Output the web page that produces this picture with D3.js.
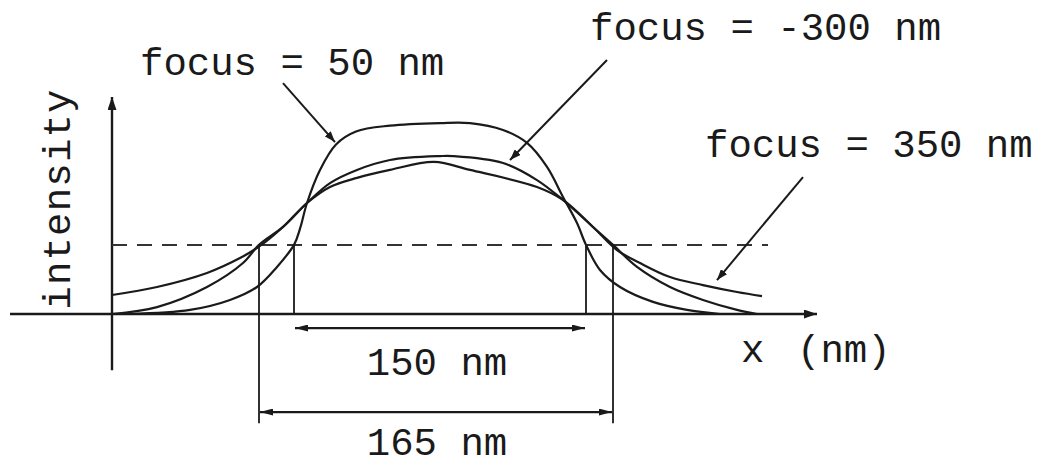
<!DOCTYPE html>
<html>
<head>
<meta charset="utf-8">
<script src="https://cdn.jsdelivr.net/npm/d3@7"></script>
<style>
  html, body { margin: 0; padding: 0; background: #fff; }
  svg { display: block; }
  text { font-family: "Liberation Mono", "DejaVu Sans Mono", monospace; fill: #1a1a1a; }
</style>
</head>
<body>
<svg id="chart" width="1045" height="466"></svg>
<script>
// Intensity profiles across the line (x in nm, intensity normalised)
const focus50 = [
  [-155, 0], [-125, 0.019], [-105, 0.065], [-91.5, 0.125], [-81.5, 0.218],
  [-73, 0.32], [-70, 0.395], [-66.5, 0.514], [-60, 0.667], [-52, 0.785],
  [-42, 0.845], [-25, 0.872], [0, 0.884], [15, 0.884], [31.5, 0.852],
  [43.5, 0.792], [53.5, 0.681], [61.5, 0.542], [68.5, 0.421], [73, 0.32],
  [80, 0.204], [90, 0.125], [106.5, 0.056], [123.5, 0.019], [140, 0]
];
const focusMinus300 = [
  [-164, 0], [-141.5, 0.032], [-116.5, 0.125], [-98.5, 0.236], [-90.5, 0.32],
  [-78.5, 0.403], [-66.5, 0.514], [-55, 0.606], [-41.5, 0.667], [-25, 0.713],
  [0, 0.731], [6.5, 0.731], [31.5, 0.699], [48.5, 0.62], [61.5, 0.528],
  [76.5, 0.403], [86.5, 0.32], [98.5, 0.218], [115, 0.125], [131.5, 0.065],
  [148.5, 0.019], [158.5, 0]
];
const focus350 = [
  [-164, 0.088], [-141.5, 0.125], [-116.5, 0.19], [-100, 0.259], [-90, 0.315],
  [-78.5, 0.403], [-66.5, 0.514], [-55, 0.588], [-41.5, 0.63], [-25, 0.667],
  [-3, 0.704], [15, 0.667], [48.5, 0.588], [61.5, 0.528], [76.5, 0.403],
  [88.5, 0.296], [100, 0.236], [115, 0.171], [131.5, 0.134], [148.5, 0.102],
  [161, 0.083]
];

// Threshold level and the edge positions where profiles cross it
const threshold = 0.32;
const innerEdges = [-73, 73];       // focus = 50 nm  -> 150 nm
const outerEdges = [-90.5, 86.5];   // focus = -300 / 350 nm -> 165 nm
const widthLabels = ["150 nm", "165 nm"];

// Callouts: label text, arrow start and arrow tip (data units)
const callouts = [
  { label: "focus = 50 nm",   from: [-78.5, 1.069], to: [-52.5, 0.796] },
  { label: "focus = -300 nm", from: [83.5, 1.176],  to: [35, 0.713] },
  { label: "focus = 350 nm",  from: [181.5, 0.634], to: [138.5, 0.157] }
];

const svg = d3.select("#chart");
const ink = "#1a1a1a";

const x = d3.scaleLinear().domain([-215, 190]).range([10, 820]);
const y = d3.scaleLinear().domain([0, 1]).range([314, 98]);
const yAxisX = -164;

// arrowhead markers
const defs = svg.append("defs");
function marker(id, len, half, orient) {
  defs.append("marker")
    .attr("id", id)
    .attr("markerUnits", "userSpaceOnUse")
    .attr("viewBox", `0 ${-half} ${len} ${half * 2}`)
    .attr("refX", len).attr("refY", 0)
    .attr("markerWidth", len).attr("markerHeight", half * 2)
    .attr("orient", orient)
    .append("path")
    .attr("d", `M0,${-half}L${len},0L0,${half}Z`)
    .attr("fill", ink);
}
marker("axisHead", 13, 4.5, "auto");
marker("calloutHead", 11, 4, "auto");
marker("dimHead", 13, 3.5, "auto-start-reverse");

// axes
svg.append("line")
  .attr("x1", x(-215)).attr("x2", x(188.5))
  .attr("y1", y(0)).attr("y2", y(0))
  .attr("stroke", ink).attr("stroke-width", 2.4)
  .attr("marker-end", "url(#axisHead)");
svg.append("line")
  .attr("x1", x(yAxisX)).attr("x2", x(yAxisX))
  .attr("y1", y(-0.26)).attr("y2", y(1.005))
  .attr("stroke", ink).attr("stroke-width", 2.4)
  .attr("marker-end", "url(#axisHead)");

// threshold level
svg.append("line")
  .attr("x1", x(yAxisX)).attr("x2", x(164))
  .attr("y1", y(threshold)).attr("y2", y(threshold))
  .attr("stroke", "#333").attr("stroke-width", 2)
  .attr("stroke-dasharray", "15,10");

// edge lines
innerEdges.forEach(e => {
  svg.append("line")
    .attr("x1", x(e)).attr("x2", x(e))
    .attr("y1", y(threshold)).attr("y2", y(0))
    .attr("stroke", ink).attr("stroke-width", 1.8);
});
outerEdges.forEach(e => {
  svg.append("line")
    .attr("x1", x(e)).attr("x2", x(e))
    .attr("y1", y(threshold)).attr("y2", y(-0.506))
    .attr("stroke", ink).attr("stroke-width", 1.8);
});

// profiles
const line = d3.line()
  .x(d => x(d[0])).y(d => y(d[1]))
  .curve(d3.curveCatmullRom.alpha(0.5));
[focus50, focusMinus300, focus350].forEach(series => {
  svg.append("path")
    .datum(series)
    .attr("d", line)
    .attr("fill", "none")
    .attr("stroke", ink).attr("stroke-width", 2.2);
});

// width dimensions
const dims = [
  { edges: innerEdges, level: -0.065, label: widthLabels[0], textLevel: -0.282 },
  { edges: outerEdges, level: -0.454, label: widthLabels[1], textLevel: -0.652 }
];
dims.forEach(dm => {
  svg.append("line")
    .attr("x1", x(dm.edges[0]) + 1).attr("x2", x(dm.edges[1]) - 1)
    .attr("y1", y(dm.level)).attr("y2", y(dm.level))
    .attr("stroke", ink).attr("stroke-width", 2.2)
    .attr("marker-start", "url(#dimHead)")
    .attr("marker-end", "url(#dimHead)");
  svg.append("text")
    .attr("x", x(-1.5)).attr("y", y(dm.textLevel))
    .attr("text-anchor", "middle")
    .attr("font-size", 39)
    .attr("xml:space", "preserve")
    .text(dm.label);
});

// callouts
const labelPos = [[140, 75], [590, 40], [705, 157]];
callouts.forEach((c, i) => {
  svg.append("line")
    .attr("x1", x(c.from[0])).attr("y1", y(c.from[1]))
    .attr("x2", x(c.to[0])).attr("y2", y(c.to[1]))
    .attr("stroke", ink).attr("stroke-width", 2)
    .attr("marker-end", "url(#calloutHead)");
  svg.append("text")
    .attr("x", labelPos[i][0]).attr("y", labelPos[i][1])
    .attr("font-size", 39)
    .attr("xml:space", "preserve")
    .text(c.label);
});

// axis titles
const xTitle = svg.append("text")
  .attr("x", 741).attr("y", 362)
  .attr("font-size", 39);
xTitle.append("tspan").text("x");
xTitle.append("tspan").attr("x", 797).text("(nm)");

svg.append("text")
  .attr("transform", "translate(70,199) rotate(-90)")
  .attr("text-anchor", "middle")
  .attr("font-size", 39)
  .attr("letter-spacing", 1.2)
  .text("intensity");
</script>
</body>
</html>
